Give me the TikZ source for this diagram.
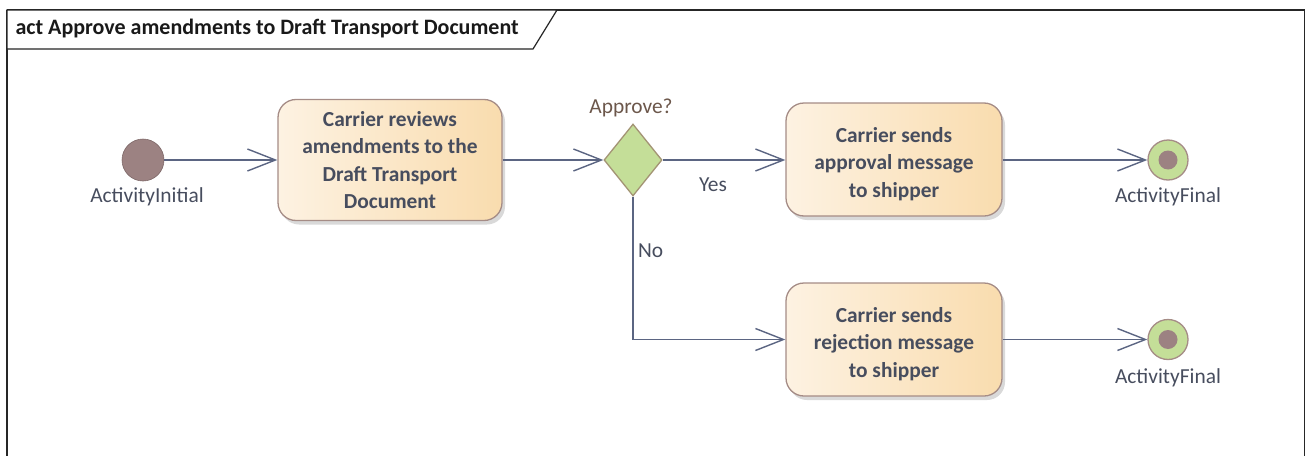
\documentclass[tikz,border=0pt]{standalone}
\usepackage{fontspec}
\setmainfont{Carlito}
\usetikzlibrary{arrows.meta,shapes.geometric,shadows}
\definecolor{edgeclr}{HTML}{5B6582}
\definecolor{boxborder}{HTML}{A58C86}
\definecolor{boxleft}{HTML}{FDF2E2}
\definecolor{boxright}{HTML}{F9DCAE}
\definecolor{txtclr}{HTML}{474D5E}
\definecolor{initclr}{HTML}{9C8282}
\definecolor{greenfill}{HTML}{C4DE98}
\definecolor{greenborder}{HTML}{A39474}
% tall invisible strut: sets a three-line text a little below the middle of its box
\newcommand{\topstrut}{\rule{0pt}{24pt}}
\tikzset{
  x=1pt, y=-1pt,
  action/.style={draw=boxborder, line width=1.3pt, rounded corners=18pt,
    left color=boxleft, right color=boxright, minimum width=#1, align=center,
    font=\fontsize{21.4}{27.3}\selectfont\bfseries, text=txtclr,
    drop shadow={shadow xshift=3pt, shadow yshift=-4pt, opacity=0.25, fill=black!60}},
  flow/.style={draw=edgeclr, line width=1.4pt,
    -{Straight Barb[length=28pt,width=22pt,line width=1.4pt]}},
  lbl/.style={font=\fontsize{21.4}{25}\selectfont, text=txtclr},
  initstate/.style={circle, fill=initclr, draw=initclr!80!black, line width=0.6pt, minimum size=42pt, inner sep=0pt},
  finalstate/.style={circle, fill=greenfill, draw=boxborder, line width=1.3pt, minimum size=40pt, inner sep=0pt,
    path picture={\fill[initclr] (path picture bounding box.center) circle (9.5pt);}},
  decision/.style={diamond, aspect=0.8, fill=greenfill, draw=greenborder, line width=1.3pt,
    minimum width=58pt, minimum height=72pt, inner sep=0pt}
}
\begin{document}
\begin{tikzpicture}
\useasboundingbox (0,0) rectangle (1306,455);
% frame and title tab
\draw[line width=1.2pt, black!85] (7,10) -- (1304.5,10) -- (1304.5,470);
\draw[line width=1.2pt, black!85] (7,470) -- (7,10);
\draw[line width=1.2pt, black!85, fill=white] (7,10) -- (557,10) -- (533,49) -- (7,49) -- cycle;
\node[anchor=west, font=\fontsize{22}{26}\selectfont\bfseries, text=black!90] (title) at (12,29) {act Approve amendments to Draft Transport Document};

% nodes
\node[initstate] (init) at (143,160) {};
\node[lbl] (initlbl) at (147,197) {ActivityInitial};

\node[action=224pt, minimum height=121pt] (review) at (390,160) {Carrier reviews\\amendments to the\\Draft Transport\\Document};

\node[decision] (dec) at (633,160) {};
\node[lbl, text=txtclr!80!orange] (declbl) at (631,108) {Approve?};

\node[action=216pt, minimum height=113pt] (approve) at (894,159.5) {\topstrut Carrier sends\\approval message\\to shipper};
\node[action=216pt, minimum height=113pt] (reject) at (894,339.5) {\topstrut Carrier sends\\rejection message\\to shipper};

\node[finalstate] (fin1) at (1168,160) {};
\node[lbl] (fin1lbl) at (1168,197) {ActivityFinal};
\node[finalstate] (fin2) at (1168,339.5) {};
\node[lbl] (fin2lbl) at (1168,378) {ActivityFinal};

% control flows
\draw[flow] (init) -- (review.west |- init);
\draw[flow] (review.east |- dec) -- (dec.west);
\draw[flow] (dec.east) -- (approve.west |- dec) node[lbl, pos=0.41, below=14pt] (yes) {Yes};
\draw[flow] (approve.east |- fin1) -- (fin1.west);
\draw[flow] (dec.south) |- (reject.west) node[lbl, pos=0.19, right=1pt] (no) {No};
\draw[flow] (reject.east) -- (fin2.west);
\end{tikzpicture}
\end{document}
